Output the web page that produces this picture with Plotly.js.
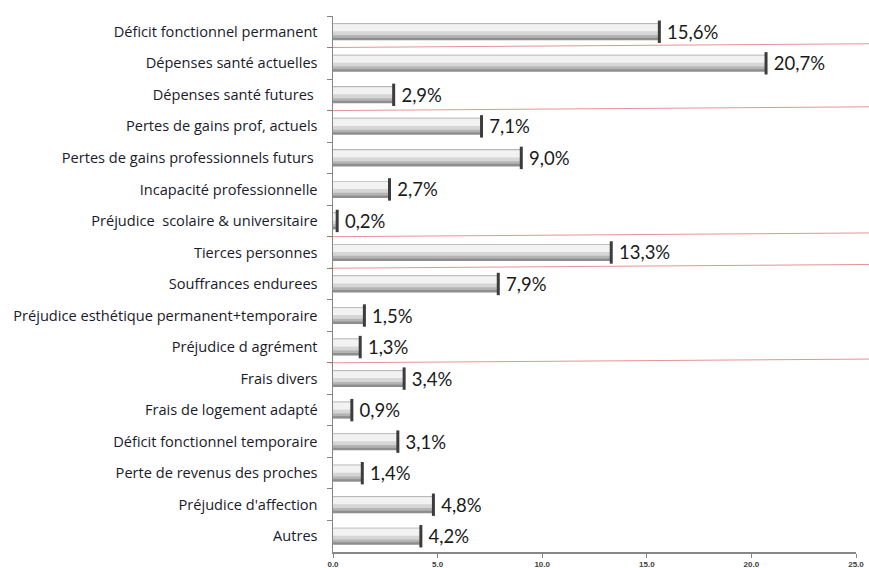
<!DOCTYPE html>
<html>
<head>
<meta charset="utf-8">
<script src="https://cdn.plot.ly/plotly-3.0.1.min.js"></script>
<style>html,body{margin:0;padding:0;background:#fff;}#chart{width:869px;height:568px;}</style>
</head>
<body>
<div id="chart"></div>
<script>
const categories = [
  "Déficit fonctionnel permanent",
  "Dépenses santé actuelles",
  "Dépenses santé futures ",
  "Pertes de gains prof, actuels",
  "Pertes de gains professionnels futurs ",
  "Incapacité professionnelle",
  "Préjudice  scolaire & universitaire",
  "Tierces personnes",
  "Souffrances endurees",
  "Préjudice esthétique permanent+temporaire",
  "Préjudice d agrément",
  "Frais divers",
  "Frais de logement adapté",
  "Déficit fonctionnel temporaire",
  "Perte de revenus des proches",
  "Préjudice d'affection",
  "Autres"
];
const values = [15.6, 20.7, 2.9, 7.1, 9.0, 2.7, 0.2, 13.3, 7.9, 1.5, 1.3, 3.4, 0.9, 3.1, 1.4, 4.8, 4.2];
const xTicks = [0, 5, 10, 15, 20, 25];
// red separator lines drawn after these category indices
const redLineAfter = [0, 2, 6, 7, 10];

const labels = values.map(v => ' ' + v.toFixed(1).replace('.', ',') + '%');

const baseTrace = {
  type: 'bar', orientation: 'h', y: categories, x: values,
  width: 0.54, offset: -0.27,
  marker: {color: '#8e8e8e', line: {width: 0}},
  text: labels, textposition: 'outside', cliponaxis: false, constraintext: 'none',
  textfont: {family: 'Lato, sans-serif', size: 18.5, color: '#1a1a1a'},
  hoverinfo: 'skip'
};
const lowTrace = {
  type: 'bar', orientation: 'h', y: categories, x: values,
  width: 0.45, offset: -0.26,
  marker: {color: '#b4b4b4', line: {width: 0}}, hoverinfo: 'skip'
};
const midTrace = {
  type: 'bar', orientation: 'h', y: categories, x: values,
  width: 0.36, offset: -0.255,
  marker: {color: '#d6d6d6', line: {width: 0}}, hoverinfo: 'skip'
};
const lightTrace = {
  type: 'bar', orientation: 'h', y: categories, x: values,
  width: 0.22, offset: -0.235,
  marker: {color: '#f2f2f2', line: {width: 0}}, hoverinfo: 'skip'
};
const capTrace = {
  type: 'scatter', mode: 'markers', y: categories, x: values,
  marker: {symbol: 'line-ns', size: 16, color: '#3c3c3c', line: {width: 3, color: '#3c3c3c'}},
  cliponaxis: false, hoverinfo: 'skip'
};

const shapes = redLineAfter.map(i => ({
  type: 'line', xref: 'paper', yref: 'y',
  x0: -0.006, x1: 1.03, y0: i + 0.5, y1: i + 0.38,
  line: {color: 'rgba(215,90,90,0.65)', width: 1}
}));

const layout = {
  width: 869, height: 568,
  margin: {l: 333, r: 13, t: 16, b: 16},
  paper_bgcolor: '#ffffff', plot_bgcolor: '#ffffff',
  showlegend: false, barmode: 'overlay',
  font: {family: 'Open Sans, sans-serif', color: '#1a1a2a'},
  xaxis: {
    range: [0, 25], tickvals: xTicks, tickformat: '.1f', ticksuffix: '%',
    ticks: 'outside', ticklen: 4, tickcolor: '#868686', tickwidth: 1,
    showline: true, linecolor: '#868686', linewidth: 1.5,
    showgrid: false, zeroline: false,
    tickfont: {family: 'Liberation Sans, sans-serif', size: 8, color: '#404040', weight: 'bold'}
  },
  yaxis: {
    type: 'category', categoryorder: 'array', categoryarray: categories,
    range: [16.5, -0.5],
    ticks: 'outside', tickson: 'boundaries', ticklen: 5, tickcolor: '#868686', tickwidth: 1,
    showline: true, linecolor: '#868686', linewidth: 1.5,
    showgrid: false, zeroline: false, ticklabelstandoff: 11,
    tickfont: {family: 'Open Sans, sans-serif', size: 14.6, color: '#1a1a2a'}
  },
  shapes: shapes
};

Plotly.newPlot('chart', [baseTrace, lowTrace, midTrace, lightTrace, capTrace], layout, {displayModeBar: false, staticPlot: true});
</script>
</body>
</html>
